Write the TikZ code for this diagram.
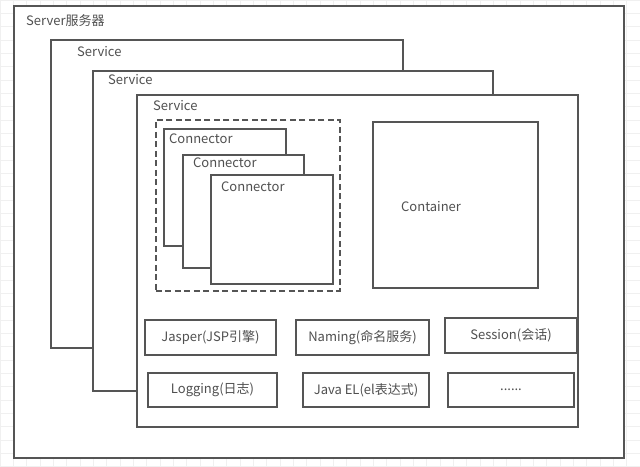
\documentclass[tikz,border=0pt]{standalone}
\usepackage{fontspec}
\setmainfont{Noto Sans CJK SC}
\begin{document}
\begin{tikzpicture}[x=1pt,y=-1pt,
  frame/.style={draw=linegray, line width=1.6pt, fill=white, anchor=north west, inner sep=0pt},
  labelbox/.style={draw=linegray, line width=1.6pt, fill=white, inner sep=0pt, text=txtgray, font=\fontsize{13}{15}\selectfont},
  lbl/.style={anchor=west, inner sep=0pt, text=txtgray, font=\fontsize{13}{15}\selectfont}]
\definecolor{linegray}{HTML}{555555}
\definecolor{txtgray}{HTML}{505050}
\definecolor{gridgray}{HTML}{F0F0F0}
\useasboundingbox (0,0) rectangle (640,466);
\fill[white] (0,0) rectangle (640,466);
\foreach \i in {0,...,48} {\draw[gridgray, line width=0.6pt] (\i*13.33,0) -- (\i*13.33,466);}
\foreach \j in {0,...,35} {\draw[gridgray, line width=0.6pt] (0,\j*13.33) -- (640,\j*13.33);}
% containers
\node[frame, minimum width=610pt, minimum height=452pt] (server) at (13,5) {};
\node[lbl] (serverlbl) at (26,21) {Server服务器};
\node[frame, minimum width=352pt, minimum height=308pt] (svc1) at (50,39) {};
\node[lbl] (svc1lbl) at (77,52) {Service};
\node[frame, minimum width=400pt, minimum height=320pt] (svc2) at (92,70) {};
\node[lbl] (svc2lbl) at (108,80) {Service};
\node[frame, minimum width=441pt, minimum height=332pt] (svc3) at (136,94) {};
\node[lbl] (svc3lbl) at (153,106) {Service};
% connectors
\node[frame, draw=linegray, dash pattern=on 6pt off 3.5pt, minimum width=184pt, minimum height=171pt] (conngroup) at (155,119) {};
\node[frame, minimum width=122pt, minimum height=117pt] (conn1) at (163,128) {};
\node[lbl] (conn1lbl) at (169,139) {Connector};
\node[frame, minimum width=121pt, minimum height=113pt] (conn2) at (182,154) {};
\node[lbl] (conn2lbl) at (193,163) {Connector};
\node[frame, minimum width=122pt, minimum height=109pt] (conn3) at (210,174) {};
\node[lbl] (conn3lbl) at (221,187) {Connector};
% container
\node[frame, minimum width=165pt, minimum height=166pt] (container) at (372,121) {};
\node[lbl] (containerlbl) at (401,207) {Container};
% component boxes
\node[labelbox, minimum width=131pt, minimum height=35pt] (jasper) at (210.5,337.5) {Jasper(JSP引擎)};
\node[labelbox, minimum width=133pt, minimum height=35pt] (naming) at (362.5,337.5) {Naming(命名服务)};
\node[labelbox, minimum width=132pt, minimum height=35pt] (session) at (511,335.5) {Session(会话)};
\node[labelbox, minimum width=129pt, minimum height=34pt] (logging) at (212.5,390) {Logging(日志)};
\node[labelbox, minimum width=126pt, minimum height=34pt] (javael) at (366,390) {Java EL(el表达式)};
\node[labelbox, minimum width=126pt, minimum height=34pt] (more) at (511,390) {......};
\end{tikzpicture}
\end{document}
